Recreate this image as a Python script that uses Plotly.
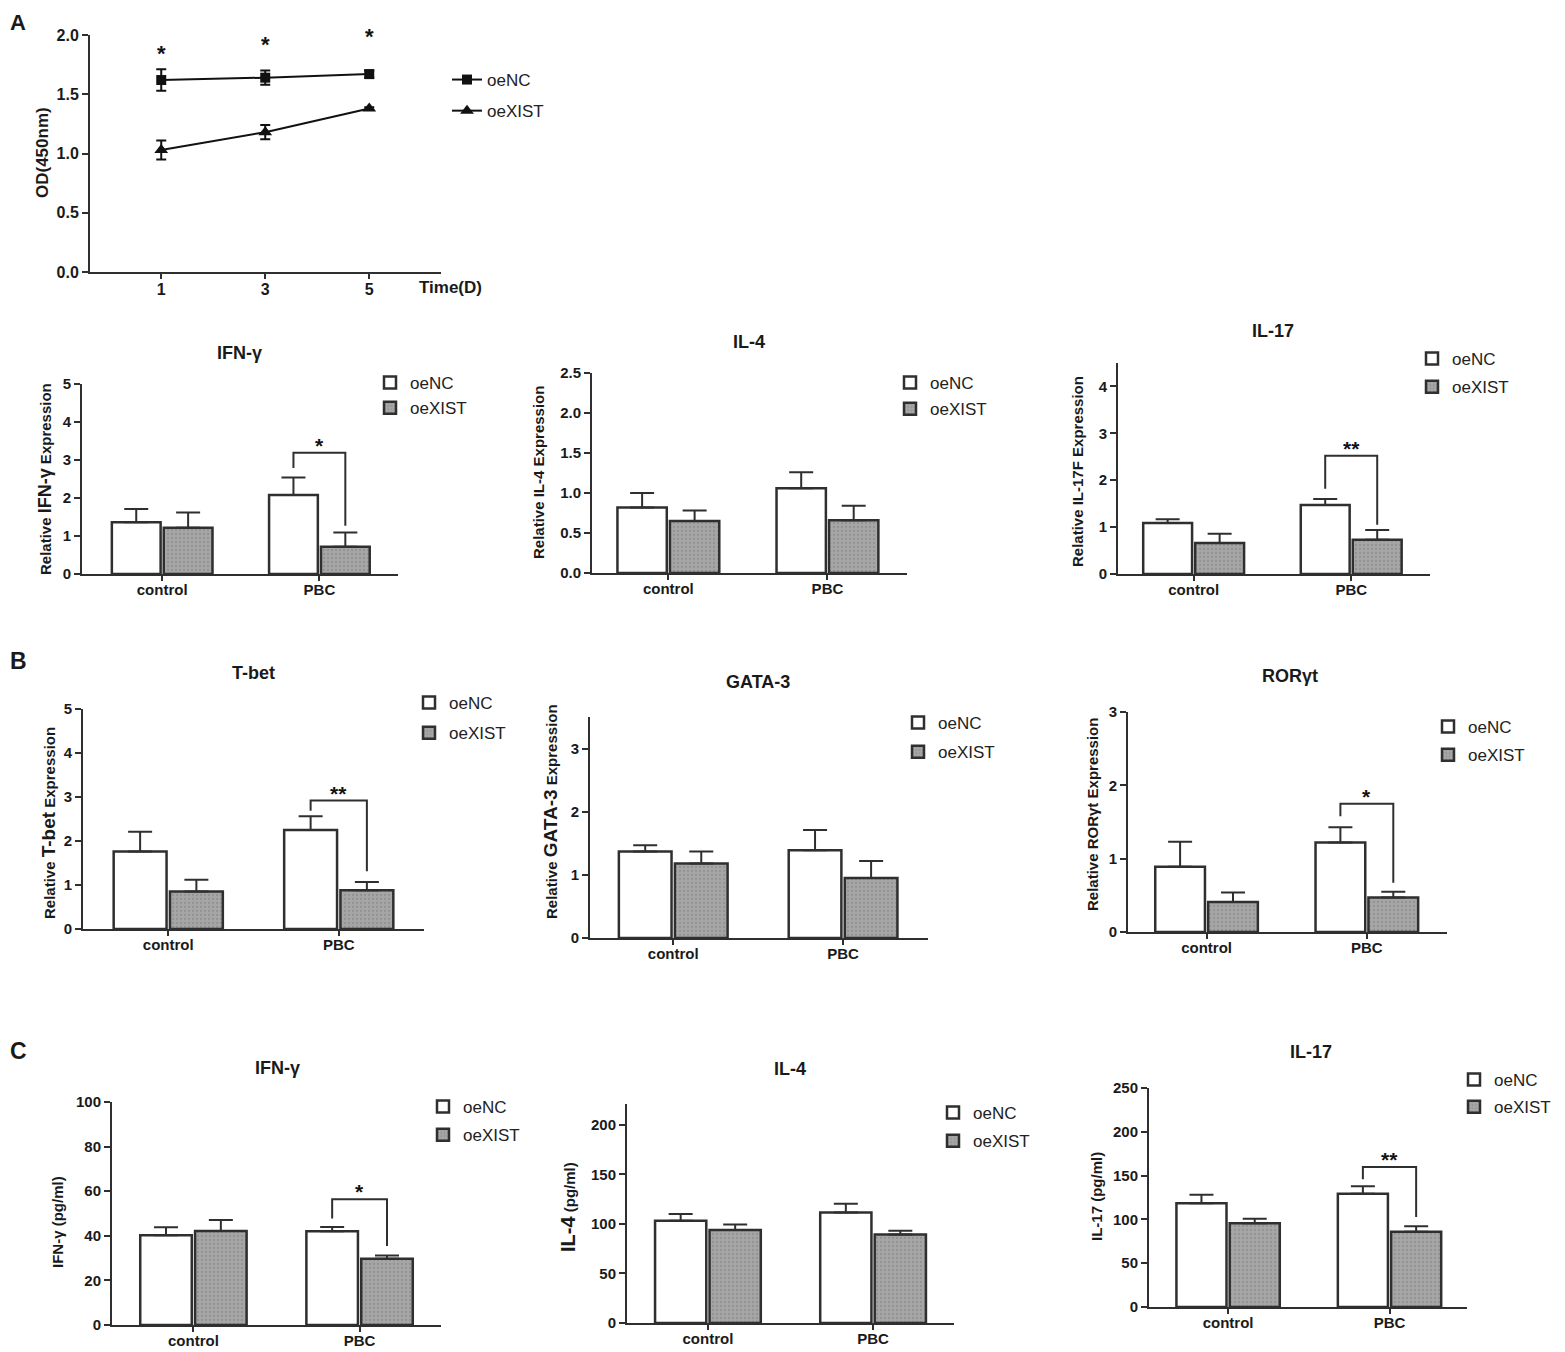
import plotly.graph_objects as go

W, H = 1565, 1352
OFF = 8  # the page places the figure 8 px in from the top-left corner
FONT = "Liberation Sans, Arial, sans-serif"
INK = "#2f2f2f"
GREY = "#a6a6a6"

# ---- data ----
days = [1, 3, 5]
od_nc = [1.62, 1.64, 1.67]
od_nc_err = [0.09, 0.06, 0.03]
od_xist = [1.03, 1.18, 1.38]
od_xist_err = [0.08, 0.06, 0.01]
od_stars = ["*", "*", "*"]
od_star_y = [1.84, 1.92, 1.99]

categories = ["control", "PBC"]

ifng_rel_nc = [1.36, 2.08]
ifng_rel_nc_err = [0.35, 0.46]
ifng_rel_xist = [1.22, 0.72]
ifng_rel_xist_err = [0.40, 0.37]

il4_rel_nc = [0.82, 1.06]
il4_rel_nc_err = [0.18, 0.20]
il4_rel_xist = [0.65, 0.66]
il4_rel_xist_err = [0.13, 0.18]

il17_rel_nc = [1.09, 1.47]
il17_rel_nc_err = [0.08, 0.13]
il17_rel_xist = [0.66, 0.73]
il17_rel_xist_err = [0.20, 0.21]

tbet_nc = [1.76, 2.25]
tbet_nc_err = [0.45, 0.31]
tbet_xist = [0.85, 0.88]
tbet_xist_err = [0.27, 0.19]

gata3_nc = [1.37, 1.39]
gata3_nc_err = [0.10, 0.32]
gata3_xist = [1.18, 0.95]
gata3_xist_err = [0.19, 0.27]

rorgt_nc = [0.89, 1.22]
rorgt_nc_err = [0.34, 0.21]
rorgt_xist = [0.41, 0.47]
rorgt_xist_err = [0.13, 0.08]

ifng_pg_nc = [40.3, 42.0]
ifng_pg_nc_err = [3.5, 1.9]
ifng_pg_xist = [42.1, 29.7]
ifng_pg_xist_err = [5.0, 1.5]

il4_pg_nc = [103.2, 111.6]
il4_pg_nc_err = [6.8, 8.7]
il4_pg_xist = [93.8, 89.4]
il4_pg_xist_err = [5.7, 3.7]

il17_pg_nc = [118.3, 129.4]
il17_pg_nc_err = [9.9, 8.3]
il17_pg_xist = [95.5, 86.0]
il17_pg_xist_err = [5.3, 6.1]

# significance brackets on PBC: left leg bottom, top, right leg bottom, label
ifng_rel_sig = [2.79, 3.19, 1.27, "*"]
il17_rel_sig = [1.82, 2.52, 1.05, "**"]
tbet_sig = [2.69, 2.92, 1.31, "**"]
rorgt_sig = [1.58, 1.75, 0.67, "*"]
ifng_pg_sig = [47.8, 56.4, 35.4, "*"]
il17_pg_sig = [145.7, 159.8, 102.7, "**"]


def fx(p):
    return (p - OFF) / W


def fy(p):
    return 1 - (p - OFF) / H


BARGAP = 0.34
HALF = (1 - BARGAP) / 4  # centre offset of each bar in a group

fig = go.Figure()
annotations = []
layout = {}


def axis_style(**kw):
    d = dict(showline=True, linewidth=2, linecolor=INK, ticks="outside",
             tickwidth=2, tickcolor=INK, showgrid=False, zeroline=False,
             tickfont=dict(family=FONT, size=15, color="#1a1a1a", weight="bold"))
    d.update(kw)
    return d


def legend_at(x_text, y_first, gap):
    return dict(x=fx(x_text - 40), y=fy(y_first - 18), xanchor="left", yanchor="top",
                bgcolor="rgba(0,0,0,0)", itemwidth=30, tracegroupgap=gap,
                font=dict(family=FONT, size=17, color="#222"))


def note(x, y, text, size, angle=0, weight="bold", anchor="center", vanchor="middle"):
    annotations.append(dict(x=fx(x), y=fy(y), xref="paper", yref="paper", text=text,
                            xanchor=anchor, yanchor=vanchor, textangle=angle, showarrow=False,
                            font=dict(family=FONT, size=size, color="#1a1a1a", weight=weight)))


# ---- panel A: line chart ----
fig.add_trace(go.Scatter(
    x=days, y=od_nc, name="oeNC", mode="lines+markers", legend="legend", legendgroup="a_nc",
    line=dict(color="#111", width=2), marker=dict(symbol="square", size=10, color="#111"),
    error_y=dict(type="data", array=od_nc_err, color="#111", thickness=2, width=5)))
fig.add_trace(go.Scatter(
    x=days, y=od_xist, name="oeXIST", mode="lines+markers", legend="legend", legendgroup="a_xist",
    line=dict(color="#111", width=2), marker=dict(symbol="triangle-up", size=12, color="#111"),
    error_y=dict(type="data", array=od_xist_err, color="#111", thickness=2, width=5)))
layout["xaxis"] = axis_style(domain=[fx(90), fx(441)], range=[-0.37, 6.38], tickvals=days,
                             ticklen=5, anchor="y", ticklabelstandoff=-3,
                             tickfont=dict(family=FONT, size=16, color="#1a1a1a", weight="bold"))
layout["yaxis"] = axis_style(domain=[fy(272), fy(35)], range=[0, 2], tickvals=[0, 0.5, 1, 1.5, 2],
                             tickformat=".1f", ticklen=6, anchor="x",
                             tickfont=dict(family=FONT, size=16, color="#1a1a1a", weight="bold"))
layout["legend"] = legend_at(487, 80, 6)
for d, s, sy in zip(days, od_stars, od_star_y):
    annotations.append(dict(x=d, y=sy, xref="x", yref="y", text=s, showarrow=False,
                            xanchor="center", yanchor="middle",
                            font=dict(family=FONT, size=22, color="#111", weight="bold")))
note(417, 288, "Time(D)", 17, anchor="left")
note(42, 153, "OD(450nm)", 17, angle=-90)

# ---- bar panels ----
panels = [
    # n, title, ytitle, nc, nc_err, xist, xist_err, sig, box(left,right,top,zero), xrange, yrange, ticks, fmt,
    # title pos, ytitle (x,y), legend (text x, first y, gap)
    (2, "IFN-γ", "Relative <span style='font-size:18px'>IFN-γ</span> Expression",
     ifng_rel_nc, ifng_rel_nc_err, ifng_rel_xist, ifng_rel_xist_err, ifng_rel_sig,
     (82, 398, 384, 574), [-0.51, 1.5], [0, 5], [0, 1, 2, 3, 4, 5], "", (240, 353), (45, 479), (410, 383, 0)),
    (3, "IL-4", "Relative IL-4 Expression",
     il4_rel_nc, il4_rel_nc_err, il4_rel_xist, il4_rel_xist_err, None,
     (592, 907, 373, 573), [-0.48, 1.5], [0, 2.5], [0, 0.5, 1, 1.5, 2, 2.5], ".1f", (749, 342), (538, 473), (930, 383, 1)),
    (4, "IL-17", "Relative IL-17F Expression",
     il17_rel_nc, il17_rel_nc_err, il17_rel_xist, il17_rel_xist_err, il17_rel_sig,
     (1118, 1430, 363, 574), [-0.48, 1.5], [0, 4.5], [0, 1, 2, 3, 4], "", (1273, 331), (1078, 472), (1452, 359, 3)),
    (5, "T-bet", "Relative <span style='font-size:19px'>T-bet</span> Expression",
     tbet_nc, tbet_nc_err, tbet_xist, tbet_xist_err, tbet_sig,
     (83, 424, 709, 929), [-0.5, 1.5], [0, 5], [0, 1, 2, 3, 4, 5], "", (253, 673), (48, 823), (449, 703, 5)),
    (6, "GATA-3", "Relative <span style='font-size:19px'>GATA-3</span> Expression",
     gata3_nc, gata3_nc_err, gata3_xist, gata3_xist_err, None,
     (590, 928, 717, 938), [-0.49, 1.5], [0, 3.5], [0, 1, 2, 3], "", (758, 682), (550, 812), (938, 723, 4)),
    (7, "RORγt", "Relative RORγt Expression",
     rorgt_nc, rorgt_nc_err, rorgt_xist, rorgt_xist_err, rorgt_sig,
     (1128, 1447, 712, 932), [-0.49, 1.5], [0, 3], [0, 1, 2, 3], "", (1290, 676), (1092, 815), (1468, 727, 3)),
    (8, "IFN-γ", "IFN-γ (pg/ml)",
     ifng_pg_nc, ifng_pg_nc_err, ifng_pg_xist, ifng_pg_xist_err, ifng_pg_sig,
     (112, 441, 1102, 1325), [-0.49, 1.49], [0, 100], [0, 20, 40, 60, 80, 100], "", (277, 1068), (57, 1222), (463, 1107, 3)),
    (9, "IL-4", "<span style='font-size:20px'>IL-4</span> (pg/ml)",
     il4_pg_nc, il4_pg_nc_err, il4_pg_xist, il4_pg_xist_err, None,
     (627, 954, 1104, 1323), [-0.49, 1.49], [0, 221], [0, 50, 100, 150, 200], "", (790, 1069), (568, 1207), (973, 1113, 3)),
    (10, "IL-17", "IL-17 (pg/ml)",
     il17_pg_nc, il17_pg_nc_err, il17_pg_xist, il17_pg_xist_err, il17_pg_sig,
     (1149, 1467, 1088, 1307), [-0.49, 1.48], [0, 250], [0, 50, 100, 150, 200, 250], "", (1311, 1052), (1096, 1197), (1494, 1080, 2)),
]

xpos = [0, 1]
for (n, title, ytitle, nc, nc_err, xist, xist_err, sig, box, xr, yr, yticks, fmt,
     tpos, ytpos, leg) in panels:
    xa, ya, lg = f"x{n}", f"y{n}", f"legend{n}"
    fig.add_trace(go.Bar(
        x=xpos, y=nc, name="oeNC", xaxis=xa, yaxis=ya, legend=lg, legendgroup=f"{n}_nc",
        marker=dict(color="white", line=dict(color=INK, width=2.5)),
        error_y=dict(type="data", array=nc_err, arrayminus=[0, 0], symmetric=False,
                     color=INK, thickness=2, width=12)))
    fig.add_trace(go.Bar(
        x=xpos, y=xist, name="oeXIST", xaxis=xa, yaxis=ya, legend=lg, legendgroup=f"{n}_xist",
        marker=dict(color=GREY, line=dict(color=INK, width=2.5),
                    pattern=dict(shape=".", bgcolor=GREY, fgcolor="#7d7d7d", size=4, solidity=0.25)),
        error_y=dict(type="data", array=xist_err, arrayminus=[0, 0], symmetric=False,
                     color=INK, thickness=2, width=12)))
    if sig is not None:
        lb, top, rb, lab = sig
        fig.add_trace(go.Scatter(
            x=[1 - HALF, 1 - HALF, 1 + HALF, 1 + HALF], y=[lb, top, top, rb], mode="lines",
            xaxis=xa, yaxis=ya, showlegend=False, hoverinfo="skip",
            line=dict(color=INK, width=2)))
        annotations.append(dict(x=1, y=top, xref=xa, yref=ya, text=lab, showarrow=False,
                                xanchor="center", yanchor="bottom", yshift=-6,
                                font=dict(family=FONT, size=21, color="#111", weight="bold")))
    left, right, ptop, zero = box
    layout[f"xaxis{n}"] = axis_style(domain=[fx(left), fx(right)], range=xr, tickvals=xpos,
                                     ticktext=categories, ticklen=5, anchor=ya, ticklabelstandoff=-4)
    ykw = dict(domain=[fy(zero), fy(ptop)], range=yr, tickvals=yticks, ticklen=6, anchor=xa)
    if fmt:
        ykw["tickformat"] = fmt
    layout[f"yaxis{n}"] = axis_style(**ykw)
    layout[lg] = legend_at(*leg)
    note(tpos[0], tpos[1], title, 18)
    note(ytpos[0], ytpos[1], ytitle, 15, angle=-90)

note(OFF, OFF, "A", 22, anchor="left", vanchor="top")
note(OFF, 661, "B", 23, anchor="left")
note(OFF, 1051, "C", 23, anchor="left")

fig.update_layout(
    width=W, height=H, margin=dict(l=0, r=0, t=0, b=0, autoexpand=False),
    paper_bgcolor="white", plot_bgcolor="white",
    barmode="group", bargap=BARGAP, bargroupgap=0.06,
    font=dict(family=FONT, color="#222"),
    annotations=annotations, **layout)

fig.write_html("out.html")
